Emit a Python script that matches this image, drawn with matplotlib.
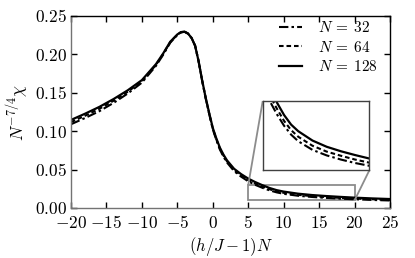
import matplotlib
matplotlib.use("Agg")
import matplotlib.pyplot as plt
from matplotlib.ticker import FuncFormatter
from mpl_toolkits.axes_grid1.inset_locator import mark_inset

plt.rcParams['mathtext.fontset'] = 'cm'
plt.rcParams['font.family'] = ['DejaVu Serif']

x = [-20, -18, -16, -14, -12, -10, -8, -7, -6, -5, -4.5, -4, -3.5, -3, -2.5, -2,
     -1.5, -1, -0.5, 0, 0.5, 1, 1.5, 2, 3, 4, 5, 6, 7, 8, 9, 10, 12, 14, 16, 18,
     20, 22.5, 25]

y128 = [0.1146, 0.1228, 0.1316, 0.1418, 0.1532, 0.1665, 0.1875, 0.2012, 0.2165,
        0.2260, 0.2290, 0.2297, 0.2272, 0.2215, 0.2115, 0.1910, 0.1660, 0.1435,
        0.1232, 0.1042, 0.0905, 0.0785, 0.0695, 0.0620, 0.0510, 0.0440, 0.0382,
        0.0336, 0.0296, 0.0260, 0.0232, 0.0213, 0.0186, 0.0168, 0.0155, 0.0144,
        0.0134, 0.0124, 0.0116]

y64 = [0.1118, 0.1201, 0.1291, 0.1396, 0.1513, 0.1650, 0.1865, 0.2005, 0.2160,
       0.2257, 0.2288, 0.2296, 0.2272, 0.2215, 0.2115, 0.1910, 0.1658, 0.1431,
       0.1226, 0.1034, 0.0895, 0.0773, 0.0683, 0.0607, 0.0496, 0.0424, 0.0364,
       0.0317, 0.0278, 0.0243, 0.0216, 0.0197, 0.0171, 0.0154, 0.0142, 0.0131,
       0.0122, 0.0113, 0.0105]

y32 = [0.1090, 0.1172, 0.1260, 0.1368, 0.1490, 0.1632, 0.1852, 0.1995, 0.2152,
       0.2253, 0.2285, 0.2294, 0.2270, 0.2213, 0.2113, 0.1908, 0.1655, 0.1426,
       0.1219, 0.1025, 0.0884, 0.0760, 0.0668, 0.0592, 0.0480, 0.0407, 0.0347,
       0.0300, 0.0262, 0.0229, 0.0203, 0.0184, 0.0159, 0.0143, 0.0131, 0.0121,
       0.0113, 0.0104, 0.0097]

labels = [r'$N\:=\:32$', r'$N\:=\:64$', r'$N\:=\:128$']
xticks = [-20, -15, -10, -5, 0, 5, 10, 15, 20, 25]
yticks = [0.00, 0.05, 0.10, 0.15, 0.20, 0.25]

styles = [dict(ls=(0, (4.5, 1.5, 1.2, 1.5)), lw=1.5),
          dict(ls=(0, (2.2, 1.4)), lw=1.5),
          dict(ls='-', lw=1.6)]
series = [y32, y64, y128]

fig = plt.figure(figsize=(4.15, 2.58), dpi=100)
ax = fig.add_axes([0.171, 0.194, 0.769, 0.744])
for ys, st, lab in zip(series, styles, labels):
    ax.plot(x, ys, color='k', label=lab, **st)

ax.set_xlim(-20, 25)
ax.set_ylim(0, 0.25)
ax.set_xticks(xticks)
ax.set_yticks(yticks)
ax.xaxis.set_major_formatter(FuncFormatter(lambda v, p: r'$%d$' % v))
ax.yaxis.set_major_formatter(FuncFormatter(lambda v, p: r'$%.2f$' % v))
ax.tick_params(direction='in', length=4, width=1, top=True, right=True,
               labelsize=12.5)
ax.tick_params(axis='x', pad=5)
ax.tick_params(axis='y', pad=3)
gray = '0.45'
ax.spines['left'].set_color(gray)
ax.spines['bottom'].set_color(gray)
for s in ax.spines.values():
    s.set_linewidth(1.0)
for t in ax.xaxis.get_major_ticks() + ax.yaxis.get_major_ticks():
    t.tick1line.set_color(gray)
    t.tick2line.set_color('k')

ax.set_xlabel(r'$(h/J-1)N$', fontsize=12, labelpad=2)
ax.set_ylabel(r'$N^{-7/4}\chi$', fontsize=12.5, labelpad=3)

leg = ax.legend(loc='upper right', frameon=False, fontsize=11,
                handlelength=1.5, handletextpad=1.05, labelspacing=0.3,
                borderpad=0, borderaxespad=0,
                bbox_to_anchor=(378 / 415, 1 - 20 / 258),
                bbox_transform=fig.transFigure)

axins = fig.add_axes([0.633, 0.340, 0.257, 0.268])
for ys, st in zip(series, styles):
    axins.plot(x, ys, color='k', **st)
axins.set_xlim(5, 20)
axins.set_ylim(0.01, 0.03)
axins.set_xticks([])
axins.set_yticks([])
for s in axins.spines.values():
    s.set_color('0.25')
    s.set_linewidth(1.0)
mark_inset(ax, axins, loc1=2, loc2=4, fc='none', ec='0.55', lw=1.3)

fig.savefig('out.png', dpi=100)
